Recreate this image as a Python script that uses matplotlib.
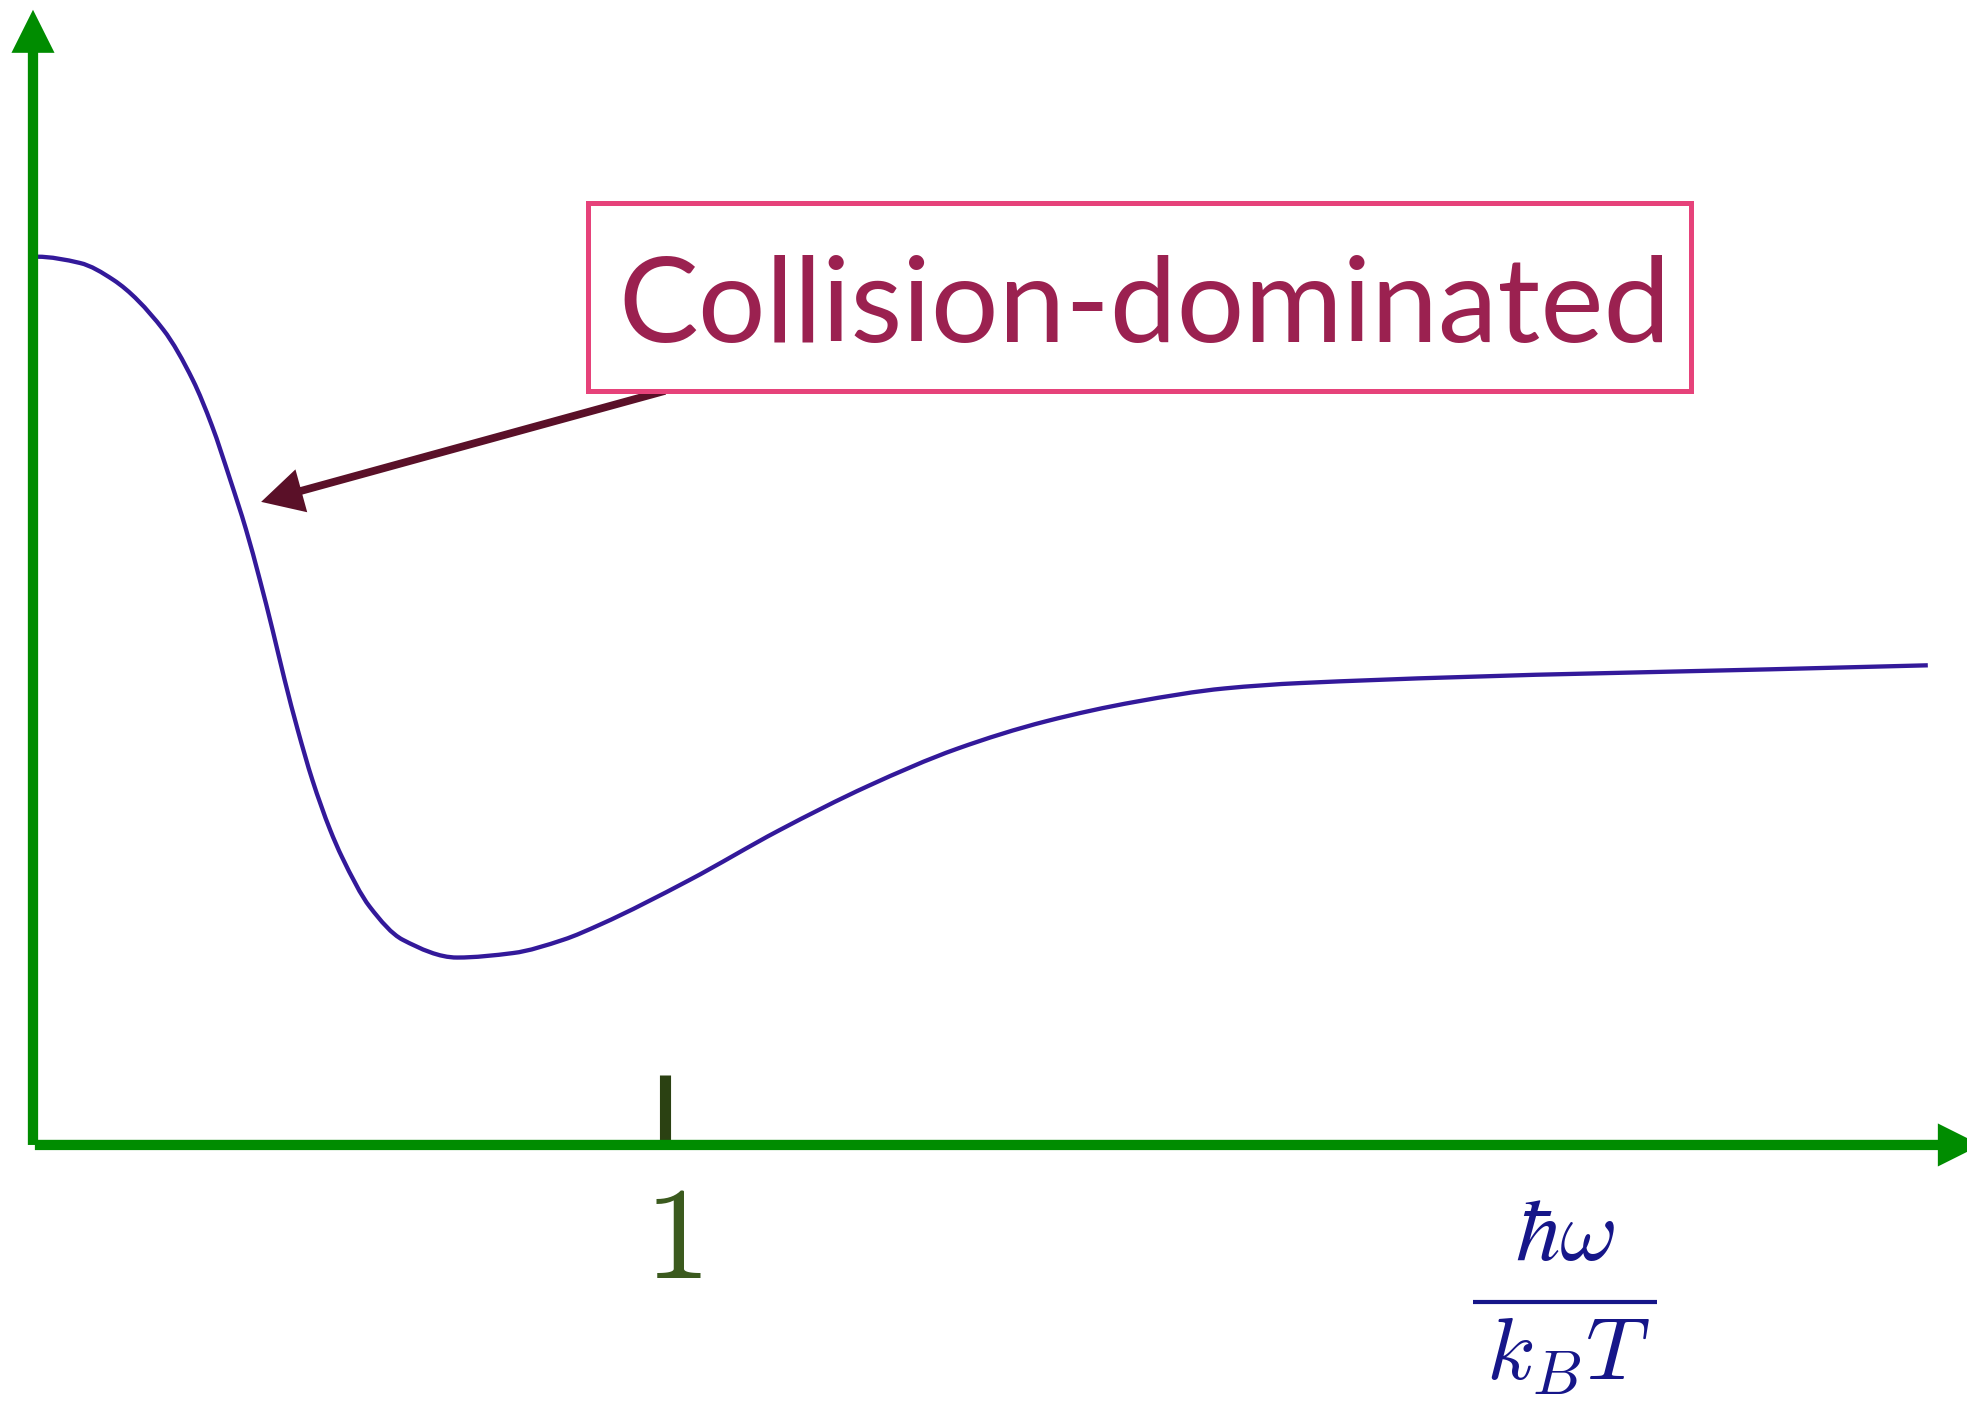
import matplotlib
matplotlib.use('Agg')
import numpy as np
from matplotlib import pyplot as plt
from matplotlib.patches import FancyArrowPatch, Rectangle, ArrowStyle, PathPatch
from matplotlib.path import Path

plt.rcParams['mathtext.fontset'] = 'cm'

# curve (x in units of hbar*omega/kT, y normalised to the value at 0)
curve_x = [0.006, 0.074, 0.127, 0.206, 0.253, 0.283, 0.312, 0.337, 0.359, 0.379,
           0.398, 0.419, 0.442, 0.470, 0.489, 0.533, 0.585, 0.671, 0.759, 0.839,
           0.897, 1.038, 1.180, 1.321, 1.462, 1.603, 1.745, 1.886, 2.005, 2.998]
curve_y = [1.000, 0.993, 0.974, 0.918, 0.861, 0.810, 0.749, 0.693, 0.636, 0.580,
           0.524, 0.467, 0.411, 0.355, 0.324, 0.268, 0.231, 0.211, 0.216, 0.231,
           0.248, 0.298, 0.354, 0.404, 0.446, 0.477, 0.499, 0.514, 0.520, 0.540]

tick_x = [1.0]
tick_labels = ['1']
label_text = 'Collision-dominated'
xlabel_num = r'$\hbar\omega$'
xlabel_den = r'$k_BT$'

# axis extents
x_min, x_max = -0.0522, 3.060
y_min, y_max = -0.295, 1.289
x_end = 3.082      # tip of x-axis arrow (falls off the picture)
y_end = 1.278      # tip of y-axis arrow

# callout box / arrow
box_x0, box_x1 = 0.878, 2.623
box_y0, box_y1 = 0.849, 1.061
arrow_from = (1.0, 0.849)
arrow_to = (0.361, 0.724)

green = '#008c00'


def smooth_path(xs, ys):
    # monotone (pchip style) slopes, each gap drawn as one cubic bezier through the read points
    x = np.asarray(xs, float)
    y = np.asarray(ys, float)
    h = np.diff(x)
    d = np.diff(y) / h
    m = np.zeros_like(x)
    for k in range(1, len(x) - 1):
        if d[k - 1] * d[k] > 0:
            w1 = 2 * h[k] + h[k - 1]
            w2 = h[k] + 2 * h[k - 1]
            m[k] = (w1 + w2) / (w1 / d[k - 1] + w2 / d[k])
    m[0] = 0.0          # flat where it leaves the y axis
    m[-1] = d[-1]
    verts = [(x[0], y[0])]
    codes = [Path.MOVETO]
    for i in range(len(x) - 1):
        verts += [(x[i] + h[i] / 3, y[i] + m[i] * h[i] / 3),
                  (x[i + 1] - h[i] / 3, y[i + 1] - m[i + 1] * h[i] / 3),
                  (x[i + 1], y[i + 1])]
        codes += [Path.CURVE4] * 3
    return Path(verts, codes)


fig = plt.figure(figsize=(19.67, 14.07), dpi=100)
ax = fig.add_axes([0, 0, 1, 1])
ax.set_xlim(x_min, x_max)
ax.set_ylim(y_min, y_max)
ax.axis('off')

# axes drawn as arrows
axis_style = ArrowStyle.Simple(head_length=31, head_width=31, tail_width=7.4)
ax.add_patch(FancyArrowPatch((0, 0), (0, y_end), arrowstyle=axis_style, mutation_scale=1,
                             color=green, shrinkA=0, shrinkB=0, lw=0, zorder=3))
ax.add_patch(FancyArrowPatch((0.003, 0), (x_end, 0), arrowstyle=axis_style, mutation_scale=1,
                             color=green, shrinkA=0, shrinkB=0, lw=0, zorder=3))

# tick and its label
for tx, tl in zip(tick_x, tick_labels):
    ax.plot([tx, tx], [0.0, 0.079], color='#2b4112', lw=8, solid_capstyle='butt', zorder=2)
    ax.text(tx + 0.012, -0.150, '$%s$' % tl, color='#3b5a1e', fontsize=95,
            ha='center', va='baseline')

# the curve
ax.add_patch(PathPatch(smooth_path(curve_x, curve_y), facecolor='none',
                       edgecolor='#33199a', lw=3.1, zorder=2))

# x label as a stacked fraction
lab_color = '#161689'
ax.text(2.424, -0.1295, xlabel_num, color=lab_color, fontsize=64, ha='center', va='baseline')
ax.plot([2.278, 2.570], [-0.1768, -0.1768], color=lab_color, lw=3, solid_capstyle='butt')
ax.text(2.429, -0.2646, xlabel_den, color=lab_color, fontsize=64, ha='center', va='baseline')

# callout arrow, then the box on top of it
callout_style = ArrowStyle.Simple(head_length=30, head_width=32, tail_width=5.6)
ax.add_patch(FancyArrowPatch(arrow_from, arrow_to, arrowstyle=callout_style, mutation_scale=1,
                             color='#5a1028', shrinkA=0, shrinkB=0, lw=0, zorder=4))
ax.add_patch(Rectangle((box_x0, box_y0), box_x1 - box_x0, box_y1 - box_y0,
                       facecolor='white', edgecolor='#e6427a', lw=3.6, zorder=5))
ax.text((box_x0 + box_x1) / 2 + 0.008, 0.904, label_text, color='#9b2150',
        fontsize=86, family='Lato', ha='center', va='baseline', zorder=6)

fig.savefig('out.png', dpi=100)
